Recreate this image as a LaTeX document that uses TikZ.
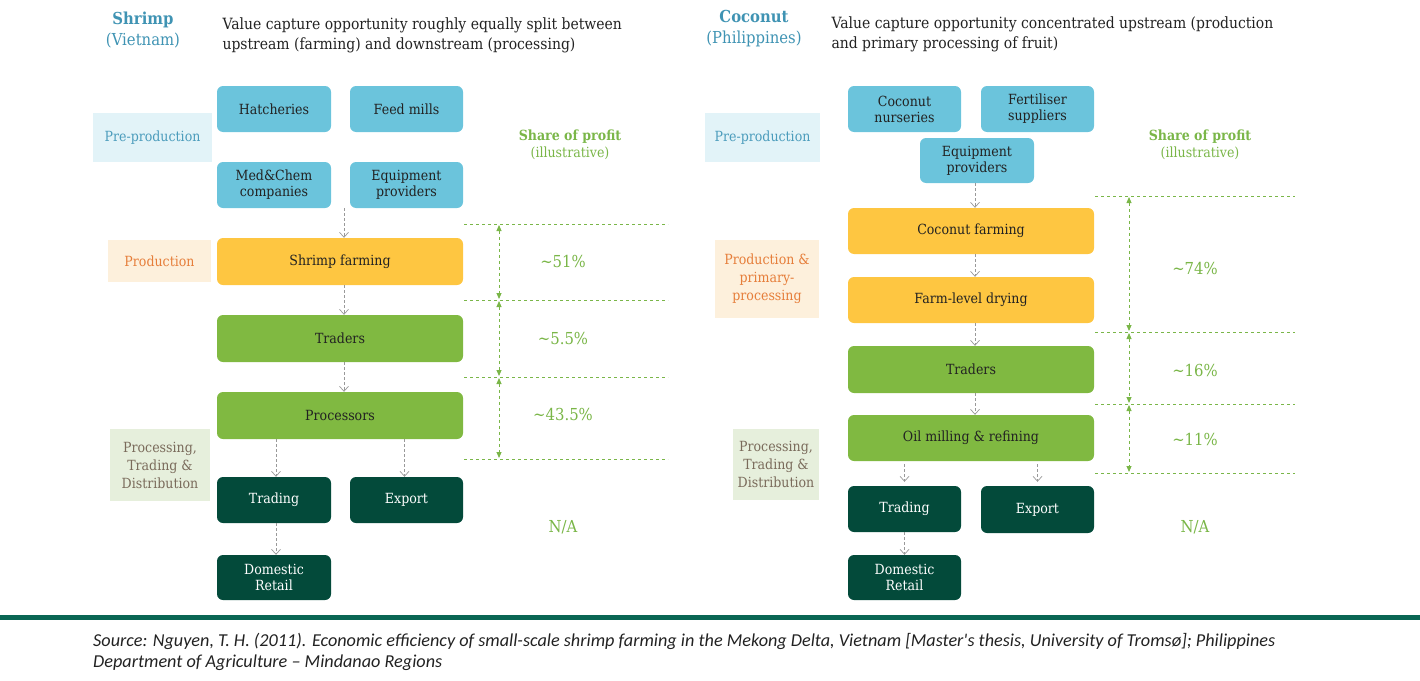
\documentclass[tikz,border=0pt]{standalone}
\usepackage{fontspec}
\setmainfont{DejaVu Serif}[FakeStretch=0.9]
\newfontfamily\srcfont{Carlito}
\usetikzlibrary{arrows.meta,calc}
\definecolor{hteal}{HTML}{3F93B3}
\definecolor{cblue}{HTML}{6BC4DC}
\definecolor{cyellow}{HTML}{FEC641}
\definecolor{cgreen}{HTML}{80B941}
\definecolor{cdark}{HTML}{034A3A}
\definecolor{lblue}{HTML}{E2F3F8}
\definecolor{lblueT}{HTML}{4B9CBC}
\definecolor{lorange}{HTML}{FDF0DC}
\definecolor{lorangeT}{HTML}{E67E3A}
\definecolor{lgreen}{HTML}{E6EFDC}
\definecolor{lgreenT}{HTML}{7A6B5B}
\definecolor{pgreen}{HTML}{7AB648}
\definecolor{barc}{HTML}{0A6654}
\definecolor{txt}{HTML}{222222}
\tikzset{
  box/.style={rounded corners=6pt, inner sep=0pt, align=center, font=\fontsize{14}{16}\selectfont, text=txt},
  bluebox/.style={box, fill=cblue},
  yellowbox/.style={box, fill=cyellow},
  greenbox/.style={box, fill=cgreen},
  darkbox/.style={box, fill=cdark, text=white},
  lab/.style={inner sep=0pt, align=center, font=\fontsize{14}{18}\selectfont},
  flow/.style={draw=gray!80, densely dashed, line width=0.7pt, -{Straight Barb[length=5pt,width=9pt]}},
  share/.style={draw=pgreen, dashed, line width=0.9pt},
  sharearr/.style={draw=pgreen, dashed, line width=0.9pt, {Triangle[length=6pt,width=5pt]}-{Triangle[length=6pt,width=5pt]}, shorten >=1pt, shorten <=1pt},
  pct/.style={text=pgreen, font=\fontsize{16.5}{18}\selectfont},
  head/.style={text=hteal, align=center, font=\fontsize{16.5}{21}\selectfont},
  title/.style={text=txt, align=left, anchor=west, font=\fontsize{15.5}{20}\selectfont},
}
\begin{document}
\begin{tikzpicture}[x=1pt,y=-1pt]
\useasboundingbox (0,0) rectangle (1420,680);
% ---------------- LEFT PANEL ----------------
\node[head] (lhead) at (143,30) {\textbf{Shrimp}\\(Vietnam)};
\node[title] (ltitle) at (219,35) {Value capture opportunity roughly equally split between\\upstream (farming) and downstream (processing)};
% stage labels
\node[lab, fill=lblue, text=lblueT, minimum width=119pt, minimum height=49pt] (lpre) at (152.5,137.5) {Pre-production};
\node[lab, fill=lorange, text=lorangeT, minimum width=103pt, minimum height=42pt] (lprod) at (159.5,261) {Production};
\node[lab, fill=lgreen, text=lgreenT, minimum width=100pt, minimum height=72pt] (lproc) at (160,465) {Processing,\\Trading \&\\Distribution};
% boxes
\node[bluebox, minimum width=114pt, minimum height=46pt] (hatch) at (274,109) {Hatcheries};
\node[bluebox, minimum width=113pt, minimum height=46pt] (feed) at (406.5,109) {Feed mills};
\node[bluebox, minimum width=114pt, minimum height=46pt] (med) at (274,185) {Med\&Chem\\companies};
\node[bluebox, minimum width=113pt, minimum height=46pt] (equip) at (406.5,185) {Equipment\\providers};
\node[yellowbox, minimum width=246pt, minimum height=47pt] (sfarm) at (340,261.5) {Shrimp farming};
\node[greenbox, minimum width=246pt, minimum height=47pt] (ltrad) at (340,338.5) {Traders};
\node[greenbox, minimum width=246pt, minimum height=47pt] (lproc2) at (340,415.5) {Processors};
\node[darkbox, minimum width=114pt, minimum height=46pt] (ltrading) at (274,500) {Trading};
\node[darkbox, minimum width=113pt, minimum height=46pt] (lexport) at (406.5,500) {Export};
\node[darkbox, minimum width=114pt, minimum height=45pt] (ldom) at (274,577.5) {Domestic\\Retail};
% flows
\coordinate (lpreout) at (344,208);
\draw[flow] (lpreout) -- (lpreout |- sfarm.north);
\draw[flow] ($(sfarm.south)+(4,0)$) -- ($(ltrad.north)+(4,0)$);
\draw[flow] ($(ltrad.south)+(4,0)$) -- ($(lproc2.north)+(4,0)$);
\draw[flow] ($(lproc2.south -| ltrading)+(2,0)$) -- ($(ltrading.north)+(2,0)$);
\draw[flow] ($(lproc2.south -| lexport)+(-2,0)$) -- ($(lexport.north)+(-2,0)$);
\draw[flow] ($(ltrading.south)+(2,0)$) -- ($(ldom.north)+(2,0)$);
% share of profit
\node[text=pgreen, align=center, font=\fontsize{14}{17}\selectfont] (lshare) at (570,145) {\textbf{Share of profit}\\(illustrative)};
\coordinate (la1) at (499,224); \coordinate (la2) at (499,300);
\coordinate (la3) at (499,377); \coordinate (la4) at (499,459);
\draw[share] (464,224) -- (668,224);
\draw[share] (464,300) -- (668,300);
\draw[share] (464,377) -- (668,377);
\draw[share] (464,459) -- (668,459);
\draw[sharearr] (la1) -- (la2);
\draw[sharearr] (la2) -- (la3);
\draw[sharearr] (la3) -- (la4);
\node[pct] (lp1) at (563,261) {\textasciitilde 51\%};
\node[pct] (lp2) at (563,338) {\textasciitilde 5.5\%};
\node[pct] (lp3) at (563,414) {\textasciitilde 43.5\%};
\node[pct] (lp4) at (563,527) {N/A};
% ---------------- RIGHT PANEL ----------------
\node[head] (rhead) at (754,29) {\textbf{Coconut}\\(Philippines)};
\node[title] (rtitle) at (828,34) {Value capture opportunity concentrated upstream (production\\and primary processing of fruit)};
\node[lab, fill=lblue, text=lblueT, minimum width=115pt, minimum height=49pt] (rpre) at (762.5,137.5) {Pre-production};
\node[lab, fill=lorange, text=lorangeT, minimum width=104pt, minimum height=78pt] (rprod) at (767,279) {Production \&\\primary-\\processing};
\node[lab, fill=lgreen, text=lgreenT, minimum width=86pt, minimum height=71pt] (rproc) at (776,464.5) {Processing,\\Trading \&\\Distribution};
\node[bluebox, minimum width=113pt, minimum height=46pt] (nurs) at (904.5,109) {Coconut\\nurseries};
\node[bluebox, minimum width=113pt, minimum height=46pt] (fert) at (1037.5,109) {Fertiliser\\suppliers};
\node[bluebox, minimum width=114pt, minimum height=45pt] (requip) at (977,160.5) {Equipment\\providers};
\node[yellowbox, minimum width=246pt, minimum height=46pt] (cfarm) at (971,231) {Coconut farming};
\node[yellowbox, minimum width=246pt, minimum height=46pt] (dry) at (971,300) {Farm-level drying};
\node[greenbox, minimum width=246pt, minimum height=47pt] (rtrad) at (971,369.5) {Traders};
\node[greenbox, minimum width=246pt, minimum height=46pt] (oil) at (971,438) {Oil milling \& refining};
\node[darkbox, minimum width=113pt, minimum height=46pt] (rtrading) at (904.5,509) {Trading};
\node[darkbox, minimum width=113pt, minimum height=47pt] (rexport) at (1037.5,509.5) {Export};
\node[darkbox, minimum width=113pt, minimum height=45pt] (rdom) at (904.5,577.5) {Domestic\\Retail};
\draw[flow] ($(requip.south)+(-2,0)$) -- ($(cfarm.north)+(4,0)$);
\draw[flow] ($(cfarm.south)+(4,0)$) -- ($(dry.north)+(4,0)$);
\draw[flow] ($(dry.south)+(4,0)$) -- ($(rtrad.north)+(4,0)$);
\draw[flow] ($(rtrad.south)+(4,0)$) -- ($(oil.north)+(4,0)$);
\draw[flow] ($(oil.south -| rtrading)+(0,3)$) -- ($(rtrading.north)+(0,-4)$);
\draw[flow] ($(oil.south -| rexport)+(0,3)$) -- ($(rexport.north)+(0,-4)$);
\draw[flow] (rtrading.south) -- (rdom.north);
\node[text=pgreen, align=center, font=\fontsize{14}{17}\selectfont] (rshare) at (1200,145) {\textbf{Share of profit}\\(illustrative)};
\coordinate (ra1) at (1129,196); \coordinate (ra2) at (1129,332);
\coordinate (ra3) at (1129,404); \coordinate (ra4) at (1129,473);
\draw[share] (1095,196) -- (1295,196);
\draw[share] (1095,332) -- (1295,332);
\draw[share] (1095,404) -- (1295,404);
\draw[share] (1095,473) -- (1295,473);
\draw[sharearr] (ra1) -- (ra2);
\draw[sharearr] (ra2) -- (ra3);
\draw[sharearr] (ra3) -- (ra4);
\node[pct] (rp1) at (1195,268) {\textasciitilde 74\%};
\node[pct] (rp2) at (1195,370) {\textasciitilde 16\%};
\node[pct] (rp3) at (1195,439) {\textasciitilde 11\%};
\node[pct] (rp4) at (1195,527) {N/A};
% ---------------- FOOTER ----------------
\fill[barc] (0,614.5) rectangle (1420,620);
\node[anchor=west, align=left, text=txt, inner sep=0pt, font=\srcfont\itshape\fontsize{18.2}{21}\selectfont] (src) at (93,652) {Source: Nguyen, T. H. (2011). Economic efficiency of small-scale shrimp farming in the Mekong Delta, Vietnam [Master's thesis, University of Tromsø]; Philippines\\Department of Agriculture – Mindanao Regions};
\end{tikzpicture}
\end{document}
